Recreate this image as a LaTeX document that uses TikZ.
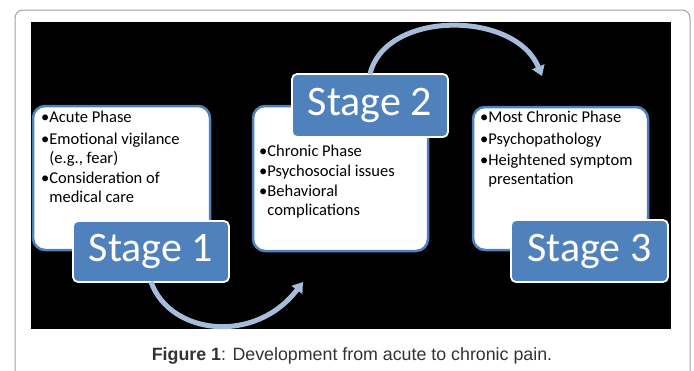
\documentclass[tikz,border=0pt]{standalone}
\usepackage{fontspec}
\setmainfont{Carlito}
\newfontfamily\capfont{Liberation Sans}
\usetikzlibrary{arrows.meta, positioning}

\definecolor{stageblue}{HTML}{4F81BD}
\definecolor{flowblue}{HTML}{A7BCDA}
\definecolor{framegray}{HTML}{A0A0A0}
\definecolor{captext}{HTML}{333333}

\tikzset{
  textbox/.style={draw=stageblue, line width=2.5pt, fill=white, rounded corners=12pt},
  stagebox/.style={draw=white, line width=1.8pt, fill=stageblue, rounded corners=5pt,
    text=white, font=\fontsize{42}{46}\selectfont, inner sep=0pt},
  pointlist/.style={anchor=north west, align=left, inner sep=0pt,
    font=\fontsize{16.5}{19}\selectfont},
  flow/.style={flowblue, line width=5pt, -{Triangle[length=10pt, width=13pt]}}
}
\newcommand{\pt}{\textbullet}
\newcommand{\cont}{\hphantom{\textbullet}}

\begin{document}
\begin{tikzpicture}[x=1pt, y=-1pt]
		\useasboundingbox (0,0) rectangle (694,370);
		\fill[white] (0,0) rectangle (694,370);
		\draw[framegray, line width=1pt, rounded corners=8pt] (15,380) -- (15,10) -- (690,10) -- (690,380);
		\fill[black] (31,22) rectangle (671,329);
		% text boxes
		\node[textbox, minimum width=177pt, minimum height=144pt] (box1) at (121.5,178) {};
		\node[textbox, minimum width=175pt, minimum height=145pt] (box2) at (340.5,178.5) {};
		\node[textbox, minimum width=175pt, minimum height=143pt] (box3) at (560.5,178.5) {};
		\node[pointlist] (list1) at (41,111) {\pt Acute Phase\\[3pt]
			\pt Emotional vigilance\\ \cont(e.g., fear)\\[1pt]
			\pt Consideration of\\ \cont medical care};
		\node[pointlist] (list2) at (259,145) {\pt Chronic Phase\\[1pt]
			\pt Psychosocial issues\\[1pt]
			\pt Behavioral\\ \cont complications};
		\node[pointlist] (list3) at (480,111) {\pt Most Chronic Phase\\[3pt]
			\pt Psychopathology\\[2pt]
			\pt Heightened symptom\\ \cont presentation};
		% stage labels
		\node[stagebox, minimum width=156pt, minimum height=61pt] (stage1) at (151,251.5) {Stage 1};
		\node[stagebox, minimum width=156pt, minimum height=63pt] (stage2) at (370,105.5) {Stage 2};
		\node[stagebox, minimum width=157pt, minimum height=62pt] (stage3) at (589.5,251) {Stage 3};
		% flow arrows
		\coordinate (end1) at (303,282);
		\coordinate (end2) at (542,76);
		\draw[flow] ([yshift=1pt]stage1.south) .. controls (170,335) and (255,345) .. (end1);
		\draw[flow] ([yshift=-1pt]stage2.north) .. controls (385,10) and (515,10) .. (end2);
		% caption
		\node[text=captext, font=\capfont\fontsize{17.8}{21}\selectfont] (caption) at (352,356)
			{\textbf{Figure 1}: Development from acute to chronic pain.};
	\end{tikzpicture}
\end{document}
